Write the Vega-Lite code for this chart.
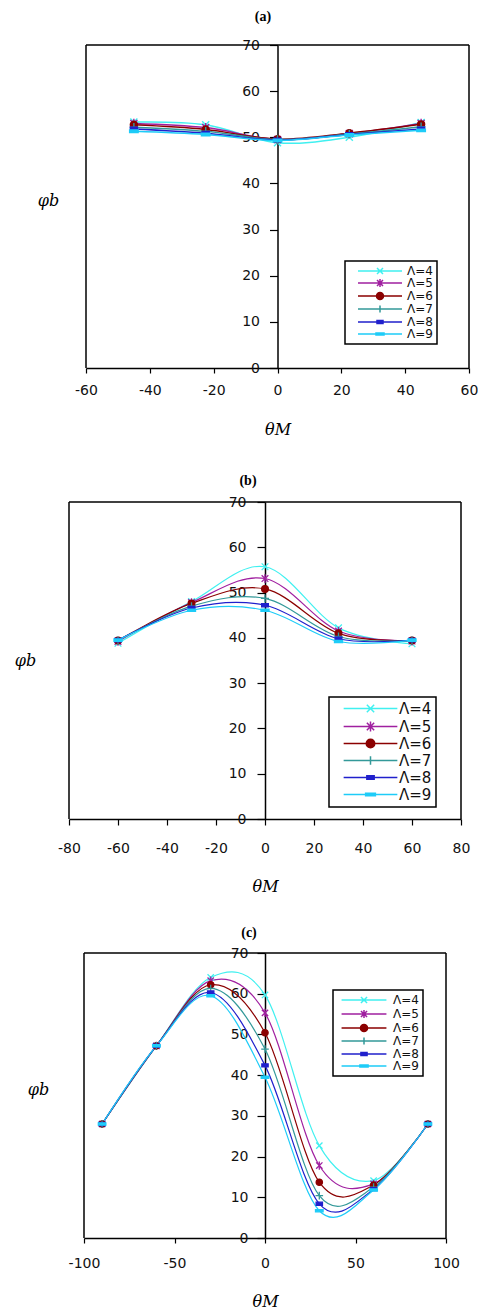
{
  "$schema": "https://vega.github.io/schema/vega-lite/v6.json",
  "background": "white",
  "padding": {"left": 14, "top": 10, "right": 0, "bottom": 0},
  "bounds": "flush",
  "spacing": 134,
  "resolve": {"scale": {"stroke": "independent", "fill": "independent", "shape": "independent"}, "legend": {"stroke": "independent", "fill": "independent", "shape": "independent"}},
  "datasets": {
    "a": [
      {"x": -45, "y": 53.3, "L": "Λ=4"}, {"x": -22.5, "y": 52.7, "L": "Λ=4"}, {"x": 0, "y": 48.8, "L": "Λ=4"}, {"x": 22.5, "y": 50.0, "L": "Λ=4"}, {"x": 45, "y": 53.2, "L": "Λ=4"},
      {"x": -45, "y": 53.0, "L": "Λ=5"}, {"x": -22.5, "y": 52.1, "L": "Λ=5"}, {"x": 0, "y": 49.5, "L": "Λ=5"}, {"x": 22.5, "y": 50.8, "L": "Λ=5"}, {"x": 45, "y": 53.0, "L": "Λ=5"},
      {"x": -45, "y": 52.7, "L": "Λ=6"}, {"x": -22.5, "y": 51.7, "L": "Λ=6"}, {"x": 0, "y": 49.6, "L": "Λ=6"}, {"x": 22.5, "y": 50.9, "L": "Λ=6"}, {"x": 45, "y": 52.8, "L": "Λ=6"},
      {"x": -45, "y": 52.2, "L": "Λ=7"}, {"x": -22.5, "y": 51.3, "L": "Λ=7"}, {"x": 0, "y": 49.5, "L": "Λ=7"}, {"x": 22.5, "y": 50.7, "L": "Λ=7"}, {"x": 45, "y": 52.3, "L": "Λ=7"},
      {"x": -45, "y": 51.8, "L": "Λ=8"}, {"x": -22.5, "y": 50.9, "L": "Λ=8"}, {"x": 0, "y": 49.4, "L": "Λ=8"}, {"x": 22.5, "y": 50.6, "L": "Λ=8"}, {"x": 45, "y": 51.8, "L": "Λ=8"},
      {"x": -45, "y": 51.3, "L": "Λ=9"}, {"x": -22.5, "y": 50.6, "L": "Λ=9"}, {"x": 0, "y": 49.3, "L": "Λ=9"}, {"x": 22.5, "y": 50.5, "L": "Λ=9"}, {"x": 45, "y": 51.5, "L": "Λ=9"}
    ],
    "b": [
      {"x": -60, "y": 38.8, "L": "Λ=4"}, {"x": -30, "y": 48.0, "L": "Λ=4"}, {"x": 0, "y": 55.7, "L": "Λ=4"}, {"x": 30, "y": 42.2, "L": "Λ=4"}, {"x": 60, "y": 38.7, "L": "Λ=4"},
      {"x": -60, "y": 39.2, "L": "Λ=5"}, {"x": -30, "y": 47.8, "L": "Λ=5"}, {"x": 0, "y": 53.1, "L": "Λ=5"}, {"x": 30, "y": 41.5, "L": "Λ=5"}, {"x": 60, "y": 39.3, "L": "Λ=5"},
      {"x": -60, "y": 39.4, "L": "Λ=6"}, {"x": -30, "y": 47.6, "L": "Λ=6"}, {"x": 0, "y": 50.8, "L": "Λ=6"}, {"x": 30, "y": 41.0, "L": "Λ=6"}, {"x": 60, "y": 39.4, "L": "Λ=6"},
      {"x": -60, "y": 39.4, "L": "Λ=7"}, {"x": -30, "y": 47.0, "L": "Λ=7"}, {"x": 0, "y": 48.7, "L": "Λ=7"}, {"x": 30, "y": 40.3, "L": "Λ=7"}, {"x": 60, "y": 39.4, "L": "Λ=7"},
      {"x": -60, "y": 39.5, "L": "Λ=8"}, {"x": -30, "y": 46.6, "L": "Λ=8"}, {"x": 0, "y": 47.2, "L": "Λ=8"}, {"x": 30, "y": 39.8, "L": "Λ=8"}, {"x": 60, "y": 39.5, "L": "Λ=8"},
      {"x": -60, "y": 39.5, "L": "Λ=9"}, {"x": -30, "y": 46.1, "L": "Λ=9"}, {"x": 0, "y": 46.1, "L": "Λ=9"}, {"x": 30, "y": 39.2, "L": "Λ=9"}, {"x": 60, "y": 39.5, "L": "Λ=9"}
    ],
    "c": [
      {"x": -90, "y": 28.0, "L": "Λ=4"}, {"x": -60, "y": 47.2, "L": "Λ=4"}, {"x": -30, "y": 64.0, "L": "Λ=4"}, {"x": 0, "y": 59.7, "L": "Λ=4"}, {"x": 30, "y": 22.7, "L": "Λ=4"}, {"x": 60, "y": 14.1, "L": "Λ=4"}, {"x": 90, "y": 28.0, "L": "Λ=4"},
      {"x": -90, "y": 28.0, "L": "Λ=5"}, {"x": -60, "y": 47.2, "L": "Λ=5"}, {"x": -30, "y": 63.2, "L": "Λ=5"}, {"x": 0, "y": 55.3, "L": "Λ=5"}, {"x": 30, "y": 17.8, "L": "Λ=5"}, {"x": 60, "y": 13.3, "L": "Λ=5"}, {"x": 90, "y": 28.0, "L": "Λ=5"},
      {"x": -90, "y": 28.0, "L": "Λ=6"}, {"x": -60, "y": 47.2, "L": "Λ=6"}, {"x": -30, "y": 62.2, "L": "Λ=6"}, {"x": 0, "y": 50.4, "L": "Λ=6"}, {"x": 30, "y": 13.7, "L": "Λ=6"}, {"x": 60, "y": 13.0, "L": "Λ=6"}, {"x": 90, "y": 28.0, "L": "Λ=6"},
      {"x": -90, "y": 28.0, "L": "Λ=7"}, {"x": -60, "y": 47.2, "L": "Λ=7"}, {"x": -30, "y": 61.3, "L": "Λ=7"}, {"x": 0, "y": 46.4, "L": "Λ=7"}, {"x": 30, "y": 10.4, "L": "Λ=7"}, {"x": 60, "y": 12.5, "L": "Λ=7"}, {"x": 90, "y": 28.0, "L": "Λ=7"},
      {"x": -90, "y": 28.0, "L": "Λ=8"}, {"x": -60, "y": 47.2, "L": "Λ=8"}, {"x": -30, "y": 60.3, "L": "Λ=8"}, {"x": 0, "y": 42.4, "L": "Λ=8"}, {"x": 30, "y": 8.4, "L": "Λ=8"}, {"x": 60, "y": 12.0, "L": "Λ=8"}, {"x": 90, "y": 28.0, "L": "Λ=8"},
      {"x": -90, "y": 28.0, "L": "Λ=9"}, {"x": -60, "y": 47.2, "L": "Λ=9"}, {"x": -30, "y": 59.5, "L": "Λ=9"}, {"x": 0, "y": 39.5, "L": "Λ=9"}, {"x": 30, "y": 6.7, "L": "Λ=9"}, {"x": 60, "y": 11.8, "L": "Λ=9"}, {"x": 90, "y": 28.0, "L": "Λ=9"}
    ]
  },
  "vconcat": [
    {
      "width": 400, "height": 323,
      "title": {"text": "(a)", "dx": -6, "offset": 14},
      "data": {"name": "a"},
      "layer": [
        {"mark": {"type": "line", "interpolate": "cardinal", "strokeWidth": 1.5},
         "encoding": {
           "x": {"field": "x", "type": "quantitative", "scale": {"domain": [-60, 60], "range": [17, 400], "nice": false}, "axis": {"values": [-60, -40, -20, 0, 20, 40, 60], "labelExpr": "'' + datum.value", "title": "θM", "tickSize": 5, "labelPadding": 10, "titlePadding": 24}},
           "y": {"field": "y", "type": "quantitative", "scale": {"domain": [0, 70], "nice": false}, "axis": {"values": [0, 10, 20, 30, 40, 50, 60, 70], "offset": -208.5, "tickSize": 8, "labelPadding": 10, "title": "φb", "titleAngle": 0, "titleX": -229.5, "titleY": 155, "titleAlign": "center", "titleBaseline": "middle"}},
           "stroke": {"field": "L", "type": "nominal",
           "scale": {"domain": ["Λ=4", "Λ=5", "Λ=6", "Λ=7", "Λ=8", "Λ=9"], "range": ["#40F0F0", "#A020A0", "#8B0000", "#339999", "#2020CC", "#1ECCF8"]}}}},
        {"mark": {"type": "point", "size": 50, "strokeWidth": 1.4, "opacity": 1},
         "encoding": {
           "x": {"field": "x", "type": "quantitative"},
           "y": {"field": "y", "type": "quantitative"},
           "stroke": {"field": "L", "type": "nominal"},
           "fill": {"condition": [{"test": "datum.L === 'Λ=6'", "value": "#8B0000"}, {"test": "datum.L === 'Λ=8'", "value": "#2020CC"}, {"test": "datum.L === 'Λ=9'", "value": "#1ECCF8"}], "value": "transparent"},
           "shape": {"condition": [
             {"test": "datum.L === 'Λ=4'", "value": "M-1,-1L1,1M-1,1L1,-1"},
             {"test": "datum.L === 'Λ=5'", "value": "M-1,-1L1,1M-1,1L1,-1M0,-1.3L0,1.3"},
             {"test": "datum.L === 'Λ=6'", "value": "circle"},
             {"test": "datum.L === 'Λ=7'", "value": "M-1.2,0L1.2,0M0,-1.2L0,1.2"},
             {"test": "datum.L === 'Λ=8'", "value": "M-1,-0.5L1,-0.5L1,0.5L-1,0.5Z"}
           ], "value": "M-1.2,-0.35L1.2,-0.35L1.2,0.35L-1.2,0.35Z"}
         }},
        {"transform": [{"filter": "datum.x > 1000"}],
         "mark": {"type": "point", "opacity": 1, "strokeWidth": 1.5},
         "encoding": {
           "x": {"field": "x", "type": "quantitative"},
           "y": {"field": "y", "type": "quantitative"},
           "stroke": {"field": "L", "type": "nominal", "legend": {"title": null, "orient": "none", "legendX": 276, "legendY": 216, "symbolSize": 100, "symbolOffset": 25, "labelOffset": 21, "rowPadding": -1.4, "labelFontSize": 12}},
           "fill": {"field": "L", "type": "nominal", "scale": {"domain": ["Λ=4", "Λ=5", "Λ=6", "Λ=7", "Λ=8", "Λ=9"], "range": ["transparent", "transparent", "#8B0000", "transparent", "#2020CC", "#1ECCF8"]}, "legend": {"title": null, "orient": "none", "legendX": 276, "legendY": 216, "symbolSize": 100, "symbolOffset": 25, "labelOffset": 21, "rowPadding": -1.4, "labelFontSize": 12}},
           "shape": {"field": "L", "type": "nominal", "scale": {"domain": ["Λ=4", "Λ=5", "Λ=6", "Λ=7", "Λ=8", "Λ=9"], "range": [
             "M-4.4,0H4.4M-0.6,-0.6L0.6,0.6M-0.6,0.6L0.6,-0.6",
             "M-4.4,0H4.4M-0.6,-0.6L0.6,0.6M-0.6,0.6L0.6,-0.6M0,-0.8V0.8",
             "M-4.4,0H4.4M-0.7,0A0.7,0.7,0,1,0,0.7,0A0.7,0.7,0,1,0,-0.7,0Z",
             "M-4.4,0H4.4M0,-0.7V0.7",
             "M-4.4,0H4.4M-0.6,-0.3H0.6V0.3H-0.6Z",
             "M-4.4,0H4.4M-0.8,-0.2H0.8V0.2H-0.8Z"]},
             "legend": {"title": null, "orient": "none", "legendX": 276, "legendY": 216, "symbolSize": 100, "symbolOffset": 25, "labelOffset": 21, "rowPadding": -1.4, "labelFontSize": 12}}
         }},
        {"data": {"values": [{"f": 1}]}, "mark": {"type": "rule", "color": "#000", "strokeWidth": 1.5}, "encoding": {"x": {"datum": -60, "type": "quantitative"}, "y": {"datum": 0, "type": "quantitative"}, "y2": {"datum": 70}}},
        {"data": {"values": [{"f": 1}]}, "mark": {"type": "rule", "color": "#000", "strokeWidth": 1.5}, "encoding": {"x": {"datum": 60, "type": "quantitative"}, "y": {"datum": 0, "type": "quantitative"}, "y2": {"datum": 70}}},
        {"data": {"values": [{"f": 1}]}, "mark": {"type": "rule", "color": "#000", "strokeWidth": 1.5}, "encoding": {"x": {"datum": -60, "type": "quantitative"}, "x2": {"datum": 60}, "y": {"datum": 70, "type": "quantitative"}}}
      ]
    },
    {
      "width": 392, "height": 317,
      "title": {"text": "(b)", "dx": -17, "offset": 7},
      "data": {"name": "b"},
      "layer": [
        {"mark": {"type": "line", "interpolate": "cardinal", "strokeWidth": 1.2},
         "encoding": {
           "x": {"field": "x", "type": "quantitative", "scale": {"domain": [-80, 80], "range": [0, 392], "nice": false}, "axis": {"values": [-80, -60, -40, -20, 0, 20, 40, 60, 80], "labelExpr": "'' + datum.value", "title": "θM", "tickSize": 6, "labelPadding": 16, "titlePadding": 23}},
           "y": {"field": "y", "type": "quantitative", "scale": {"domain": [0, 70], "nice": false}, "axis": {"values": [0, 10, 20, 30, 40, 50, 60, 70], "offset": -196, "tickSize": 8, "labelPadding": 11, "title": "φb", "titleAngle": 0, "titleX": -240, "titleY": 158, "titleAlign": "center", "titleBaseline": "middle"}},
           "stroke": {"field": "L", "type": "nominal",
           "scale": {"domain": ["Λ=4", "Λ=5", "Λ=6", "Λ=7", "Λ=8", "Λ=9"], "range": ["#40F0F0", "#A020A0", "#8B0000", "#339999", "#2020CC", "#1ECCF8"]}}}},
        {"mark": {"type": "point", "size": 45, "strokeWidth": 1.3, "opacity": 1},
         "encoding": {
           "x": {"field": "x", "type": "quantitative"},
           "y": {"field": "y", "type": "quantitative"},
           "stroke": {"field": "L", "type": "nominal"},
           "fill": {"condition": [{"test": "datum.L === 'Λ=6'", "value": "#8B0000"}, {"test": "datum.L === 'Λ=8'", "value": "#2020CC"}, {"test": "datum.L === 'Λ=9'", "value": "#1ECCF8"}], "value": "transparent"},
           "shape": {"condition": [
             {"test": "datum.L === 'Λ=4'", "value": "M-1,-1L1,1M-1,1L1,-1"},
             {"test": "datum.L === 'Λ=5'", "value": "M-1,-1L1,1M-1,1L1,-1M0,-1.3L0,1.3"},
             {"test": "datum.L === 'Λ=6'", "value": "circle"},
             {"test": "datum.L === 'Λ=7'", "value": "M-1.2,0L1.2,0M0,-1.2L0,1.2"},
             {"test": "datum.L === 'Λ=8'", "value": "M-1,-0.5L1,-0.5L1,0.5L-1,0.5Z"}
           ], "value": "M-1.2,-0.35L1.2,-0.35L1.2,0.35L-1.2,0.35Z"}
         }},
        {"transform": [{"filter": "datum.x > 1000"}],
         "mark": {"type": "point", "opacity": 1, "strokeWidth": 1.5},
         "encoding": {
           "x": {"field": "x", "type": "quantitative"},
           "y": {"field": "y", "type": "quantitative"},
           "stroke": {"field": "L", "type": "nominal", "legend": {"title": null, "orient": "none", "legendX": 260, "legendY": 195, "symbolSize": 149, "symbolOffset": 30, "labelOffset": 21, "rowPadding": 1, "labelFontSize": 15}},
           "fill": {"field": "L", "type": "nominal", "scale": {"domain": ["Λ=4", "Λ=5", "Λ=6", "Λ=7", "Λ=8", "Λ=9"], "range": ["transparent", "transparent", "#8B0000", "transparent", "#2020CC", "#1ECCF8"]}, "legend": {"title": null, "orient": "none", "legendX": 260, "legendY": 195, "symbolSize": 149, "symbolOffset": 30, "labelOffset": 21, "rowPadding": 1, "labelFontSize": 15}},
           "shape": {"field": "L", "type": "nominal", "scale": {"domain": ["Λ=4", "Λ=5", "Λ=6", "Λ=7", "Λ=8", "Λ=9"], "range": [
             "M-4.4,0H4.4M-0.6,-0.6L0.6,0.6M-0.6,0.6L0.6,-0.6",
             "M-4.4,0H4.4M-0.6,-0.6L0.6,0.6M-0.6,0.6L0.6,-0.6M0,-0.8V0.8",
             "M-4.4,0H4.4M-0.7,0A0.7,0.7,0,1,0,0.7,0A0.7,0.7,0,1,0,-0.7,0Z",
             "M-4.4,0H4.4M0,-0.7V0.7",
             "M-4.4,0H4.4M-0.6,-0.3H0.6V0.3H-0.6Z",
             "M-4.4,0H4.4M-0.8,-0.2H0.8V0.2H-0.8Z"]},
             "legend": {"title": null, "orient": "none", "legendX": 260, "legendY": 195, "symbolSize": 149, "symbolOffset": 30, "labelOffset": 21, "rowPadding": 1, "labelFontSize": 15}}
         }},
        {"data": {"values": [{"f": 1}]}, "mark": {"type": "rule", "color": "#000", "strokeWidth": 1.5}, "encoding": {"x": {"datum": -80, "type": "quantitative"}, "y": {"datum": 0, "type": "quantitative"}, "y2": {"datum": 70}}},
        {"data": {"values": [{"f": 1}]}, "mark": {"type": "rule", "color": "#000", "strokeWidth": 1.5}, "encoding": {"x": {"datum": 80, "type": "quantitative"}, "y": {"datum": 0, "type": "quantitative"}, "y2": {"datum": 70}}},
        {"data": {"values": [{"f": 1}]}, "mark": {"type": "rule", "color": "#000", "strokeWidth": 1.5}, "encoding": {"x": {"datum": -80, "type": "quantitative"}, "x2": {"datum": 80}, "y": {"datum": 70, "type": "quantitative"}}}
      ]
    },
    {
      "width": 377, "height": 285,
      "title": {"text": "(c)", "dx": -8.5, "offset": 6},
      "data": {"name": "c"},
      "layer": [
        {"mark": {"type": "line", "interpolate": "cardinal", "strokeWidth": 1.2},
         "encoding": {
           "x": {"field": "x", "type": "quantitative", "scale": {"domain": [-100, 100], "range": [15, 377], "nice": false}, "axis": {"values": [-100, -50, 0, 50, 100], "labelExpr": "'' + datum.value", "title": "θM", "tickSize": 5, "labelPadding": 13, "titlePadding": 23}},
           "y": {"field": "y", "type": "quantitative", "scale": {"domain": [0, 70], "nice": false}, "axis": {"values": [0, 10, 20, 30, 40, 50, 60, 70], "offset": -196, "tickSize": 8, "labelPadding": 9, "title": "φb", "titleAngle": 0, "titleX": -227, "titleY": 136, "titleAlign": "center", "titleBaseline": "middle"}},
           "stroke": {"field": "L", "type": "nominal",
           "scale": {"domain": ["Λ=4", "Λ=5", "Λ=6", "Λ=7", "Λ=8", "Λ=9"], "range": ["#40F0F0", "#A020A0", "#8B0000", "#339999", "#2020CC", "#1ECCF8"]}}}},
        {"mark": {"type": "point", "size": 40, "strokeWidth": 1.3, "opacity": 1},
         "encoding": {
           "x": {"field": "x", "type": "quantitative"},
           "y": {"field": "y", "type": "quantitative"},
           "stroke": {"field": "L", "type": "nominal"},
           "fill": {"condition": [{"test": "datum.L === 'Λ=6'", "value": "#8B0000"}, {"test": "datum.L === 'Λ=8'", "value": "#2020CC"}, {"test": "datum.L === 'Λ=9'", "value": "#1ECCF8"}], "value": "transparent"},
           "shape": {"condition": [
             {"test": "datum.L === 'Λ=4'", "value": "M-1,-1L1,1M-1,1L1,-1"},
             {"test": "datum.L === 'Λ=5'", "value": "M-1,-1L1,1M-1,1L1,-1M0,-1.3L0,1.3"},
             {"test": "datum.L === 'Λ=6'", "value": "circle"},
             {"test": "datum.L === 'Λ=7'", "value": "M-1.2,0L1.2,0M0,-1.2L0,1.2"},
             {"test": "datum.L === 'Λ=8'", "value": "M-1,-0.5L1,-0.5L1,0.5L-1,0.5Z"}
           ], "value": "M-1.2,-0.35L1.2,-0.35L1.2,0.35L-1.2,0.35Z"}
         }},
        {"transform": [{"filter": "datum.x > 1000"}],
         "mark": {"type": "point", "opacity": 1, "strokeWidth": 1.5},
         "encoding": {
           "x": {"field": "x", "type": "quantitative"},
           "y": {"field": "y", "type": "quantitative"},
           "stroke": {"field": "L", "type": "nominal", "legend": {"title": null, "orient": "none", "legendX": 264, "legendY": 37, "symbolSize": 104, "symbolOffset": 21, "labelOffset": 23, "rowPadding": -1, "labelFontSize": 12}},
           "fill": {"field": "L", "type": "nominal", "scale": {"domain": ["Λ=4", "Λ=5", "Λ=6", "Λ=7", "Λ=8", "Λ=9"], "range": ["transparent", "transparent", "#8B0000", "transparent", "#2020CC", "#1ECCF8"]}, "legend": {"title": null, "orient": "none", "legendX": 264, "legendY": 37, "symbolSize": 104, "symbolOffset": 21, "labelOffset": 23, "rowPadding": -1, "labelFontSize": 12}},
           "shape": {"field": "L", "type": "nominal", "scale": {"domain": ["Λ=4", "Λ=5", "Λ=6", "Λ=7", "Λ=8", "Λ=9"], "range": [
             "M-4.4,0H4.4M-0.6,-0.6L0.6,0.6M-0.6,0.6L0.6,-0.6",
             "M-4.4,0H4.4M-0.6,-0.6L0.6,0.6M-0.6,0.6L0.6,-0.6M0,-0.8V0.8",
             "M-4.4,0H4.4M-0.7,0A0.7,0.7,0,1,0,0.7,0A0.7,0.7,0,1,0,-0.7,0Z",
             "M-4.4,0H4.4M0,-0.7V0.7",
             "M-4.4,0H4.4M-0.6,-0.3H0.6V0.3H-0.6Z",
             "M-4.4,0H4.4M-0.8,-0.2H0.8V0.2H-0.8Z"]},
             "legend": {"title": null, "orient": "none", "legendX": 264, "legendY": 37, "symbolSize": 104, "symbolOffset": 21, "labelOffset": 23, "rowPadding": -1, "labelFontSize": 12}}
         }},
        {"data": {"values": [{"f": 1}]}, "mark": {"type": "rule", "color": "#000", "strokeWidth": 1.5}, "encoding": {"x": {"datum": -100, "type": "quantitative"}, "y": {"datum": 0, "type": "quantitative"}, "y2": {"datum": 70}}},
        {"data": {"values": [{"f": 1}]}, "mark": {"type": "rule", "color": "#000", "strokeWidth": 1.5}, "encoding": {"x": {"datum": 100, "type": "quantitative"}, "y": {"datum": 0, "type": "quantitative"}, "y2": {"datum": 70}}},
        {"data": {"values": [{"f": 1}]}, "mark": {"type": "rule", "color": "#000", "strokeWidth": 1.5}, "encoding": {"x": {"datum": -100, "type": "quantitative"}, "x2": {"datum": 100}, "y": {"datum": 70, "type": "quantitative"}}}
      ]
    }
  ],
  "config": {
    "view": {"stroke": null},
    "axis": {"grid": false, "domainColor": "#000", "domainWidth": 1.5, "tickColor": "#000", "tickWidth": 1.2, "labelFont": "DejaVu Sans", "labelFontSize": 14, "labelColor": "#111", "labelFlush": false, "labelOverlap": false, "titleColor": "#000", "titleFont": "DejaVu Serif", "titleFontStyle": "italic", "titleFontWeight": "normal", "titleFontSize": 16},
    "legend": {"labelFont": "DejaVu Sans", "labelColor": "#111", "strokeColor": "#000", "strokeWidth": 1.5, "fillColor": "#fff", "padding": 4, "symbolStrokeWidth": 1.5},
    "title": {"font": "Liberation Serif", "fontWeight": "bold", "fontSize": 14, "color": "#000", "baseline": "middle", "frame": "group"}
  }
}
